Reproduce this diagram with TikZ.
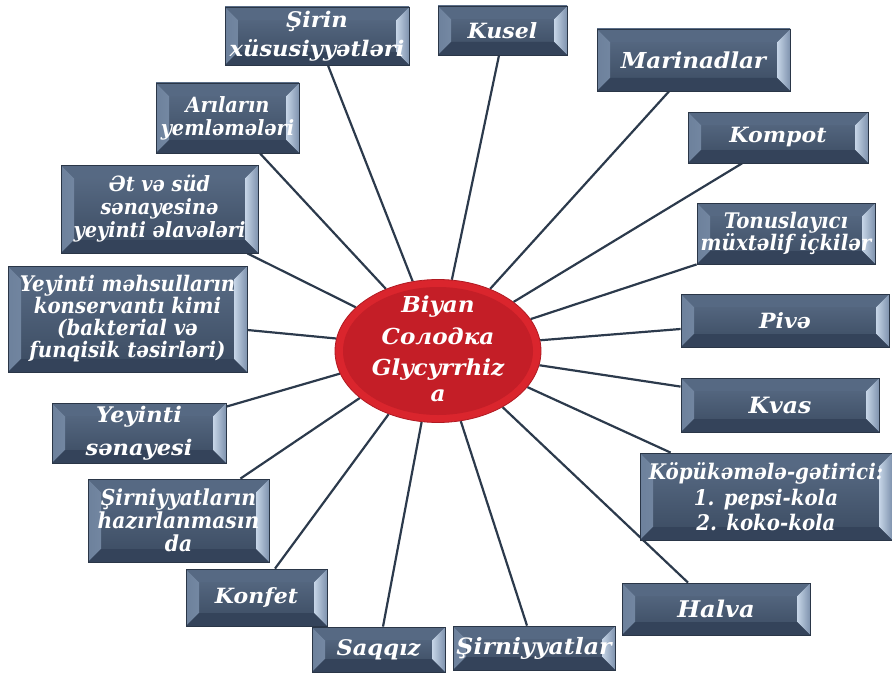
\documentclass[tikz,border=0pt]{standalone}
\usepackage{fontspec}
\usetikzlibrary{shapes.geometric,calc,backgrounds}
\newfontfamily\bfontW{DejaVu Serif}[FakeStretch=1.05]
\newfontfamily\bfontN{DejaVu Serif}[FakeStretch=0.92]
\newcommand\fW[2]{\bfontW\bfseries\itshape\fontsize{#1}{#2}\selectfont}
\newcommand\fN[2]{\bfontN\bfseries\itshape\fontsize{#1}{#2}\selectfont}
\definecolor{boxtop}{HTML}{5B6E88}
\definecolor{boxbot}{HTML}{3A4A60}
\definecolor{boxline}{HTML}{2A3647}
\definecolor{bevA}{HTML}{6D819C}
\definecolor{bevB}{HTML}{B8C9DE}
\definecolor{bevC}{HTML}{C6D5E7}
\definecolor{bevD}{HTML}{7F93AE}
\definecolor{bevT}{HTML}{566983}
\definecolor{bevBo}{HTML}{34435A}
\definecolor{connc}{HTML}{2C3A4C}
\definecolor{ellout}{HTML}{DA252D}
\definecolor{ellrim}{HTML}{B01A22}
\definecolor{ellin}{HTML}{C41E27}
\def\bv{13pt}
\tikzset{
  box/.style={draw=boxline, line width=0.8pt, inner sep=0pt, top color=boxtop, bottom color=boxbot,
    path picture={
      \shade[left color=bevA, right color=bevB] let \p1=(path picture bounding box.south west), \p2=(path picture bounding box.north east) in
        (\x1,\y1) -- (\x1+\bv,\y1+\bv) -- (\x1+\bv,\y2-\bv) -- (\x1,\y2) -- cycle;
      \shade[left color=bevC, right color=bevD] let \p1=(path picture bounding box.south west), \p2=(path picture bounding box.north east) in
        (\x2,\y1) -- (\x2-\bv,\y1+\bv) -- (\x2-\bv,\y2-\bv) -- (\x2,\y2) -- cycle;
      \fill[bevT] let \p1=(path picture bounding box.south west), \p2=(path picture bounding box.north east) in
        (\x1,\y2) -- (\x2,\y2) -- (\x2-\bv,\y2-\bv) -- (\x1+\bv,\y2-\bv) -- cycle;
      \fill[bevBo] let \p1=(path picture bounding box.south west), \p2=(path picture bounding box.north east) in
        (\x1,\y1) -- (\x2,\y1) -- (\x2-\bv,\y1+\bv) -- (\x1+\bv,\y1+\bv) -- cycle;
    }},
  lbl/.style={text=white, align=center, inner sep=0pt},
  conn/.style={draw=connc, line width=2.2pt}
}
% name, x1, y1, x2, y2, font, text
\newcommand\bx[7]{%
  \node[box, minimum width={#4-#2}, minimum height={#5-#3}] (#1) at ({(#2+#4)/2},{(#3+#5)/2}) {};
  \node[lbl, font=#6] (#1-t) at (#1.center) {#7};
}
\begin{document}
\begin{tikzpicture}[x=1pt,y=-1pt]
\useasboundingbox (0,0) rectangle (892,677);
\bx{sirin}{225}{7}{409}{65}{\fW{21.5}{23}}{Şirin\\[6pt]xüsusiyyətləri}
\bx{arilar}{156}{83}{299}{153}{\fN{21}{23}}{Arıların\\yemləmələri}
\bx{etvesud}{61}{165}{258}{253}{\fN{21}{23}}{Ət və süd\\sənayesinə\\yeyinti əlavələri}
\bx{yeyintim}{8}{266}{247}{372}{\fN{21.5}{22}}{Yeyinti məhsulların\\konservantı kimi\\(bakterial və\\funqisik təsirləri)}
\bx{yeyintis}{52}{403}{226}{463}{\fW{21.5}{23}}{Yeyinti\\[10pt]sənayesi}
\bx{sirnh}{88}{479}{269}{562}{\fN{22}{23}}{Şirniyyatların\\hazırlanmasın\\da}
\bx{konfet}{186}{569}{327}{626}{\fW{21}{23}}{Konfet}
\bx{saqqiz}{312}{627}{445}{672}{\fW{21.5}{23}}{Saqqız}
\bx{sirn}{453}{626}{615}{670}{\fW{22.5}{23}}{Şirniyyatlar}
\bx{halva}{622}{583}{810}{635}{\fW{23}{23}}{Halva}
\bx{kopuk}{640}{453}{892}{540}{\fN{21.5}{23}}{Köpükəmələ-gətirici:\\[3pt]1. pepsi-kola\\[2pt]2. koko-kola}
\bx{kvas}{681}{378}{879}{432}{\fW{22.5}{23}}{Kvas}
\bx{pive}{681}{294}{889}{347}{\fW{21}{23}}{Pivə}
\bx{tonus}{697}{203}{875}{264}{\fN{21.5}{22}}{Tonuslayıcı\\müxtəlif içkilər}
\bx{kompot}{688}{112}{868}{163}{\fW{21}{23}}{Kompot}
\bx{marin}{597}{29}{790}{91}{\fW{22}{23}}{Marinadlar}
\bx{kusel}{438}{6}{567}{55}{\fW{21}{23}}{Kusel}
\node[ellipse, minimum width=206pt, minimum height=143pt, inner sep=0pt, fill=ellout, draw=ellrim, line width=0.8pt] (c) at (438,351) {};
\node[ellipse, minimum width=190pt, minimum height=128pt, inner sep=0pt, fill=ellin] (cin) at (c.center) {};
\node[lbl, font=\fW{22}{23}] (ct) at ([yshift=2pt]c.center) {Biyan\\[9pt]Солодка\\[8pt]Glycyrrhiz\\[3pt]a};
\begin{scope}[on background layer]
\draw[conn] ([xshift=11pt]sirin.south) -- (c.110);
\draw[conn] ([xshift=32.5pt]arilar.south) -- (c.130);
\draw[conn] ([xshift=-11pt]etvesud.south east) -- (c.152);
\draw[conn] ([yshift=-11pt]yeyintim.east) -- (c.173);
\draw[conn] ([yshift=-4pt]yeyintis.north east) -- (c.193.5);
\draw[conn] ([xshift=-29pt]sirnh.north east) -- (c.211.7);
\draw[conn] ([xshift=18.5pt]konfet.north) -- (c.232.3);
\draw[conn] ([xshift=4.5pt]saqqiz.north) -- (c.257.5);
\draw[conn] ([xshift=-7pt]sirn.north) -- (c.288.4);
\draw[conn] ([xshift=-28pt]halva.north) -- (c.319.3);
\draw[conn] ([xshift=31pt]kopuk.north west) -- (c.338);
\draw[conn] ([yshift=-9pt]kvas.north west) -- (c.352.2);
\draw[conn] ([yshift=-8.5pt]pive.west) -- (c.6);
\draw[conn] (tonus.south west) -- (c.19.7);
\draw[conn] ([xshift=-36pt]kompot.south) -- (c.33.9);
\draw[conn] ([xshift=-24.5pt]marin.south) -- (c.50);
\draw[conn] ([xshift=-3.5pt]kusel.south) -- (c.79.8);
\end{scope}
\end{tikzpicture}
\end{document}
